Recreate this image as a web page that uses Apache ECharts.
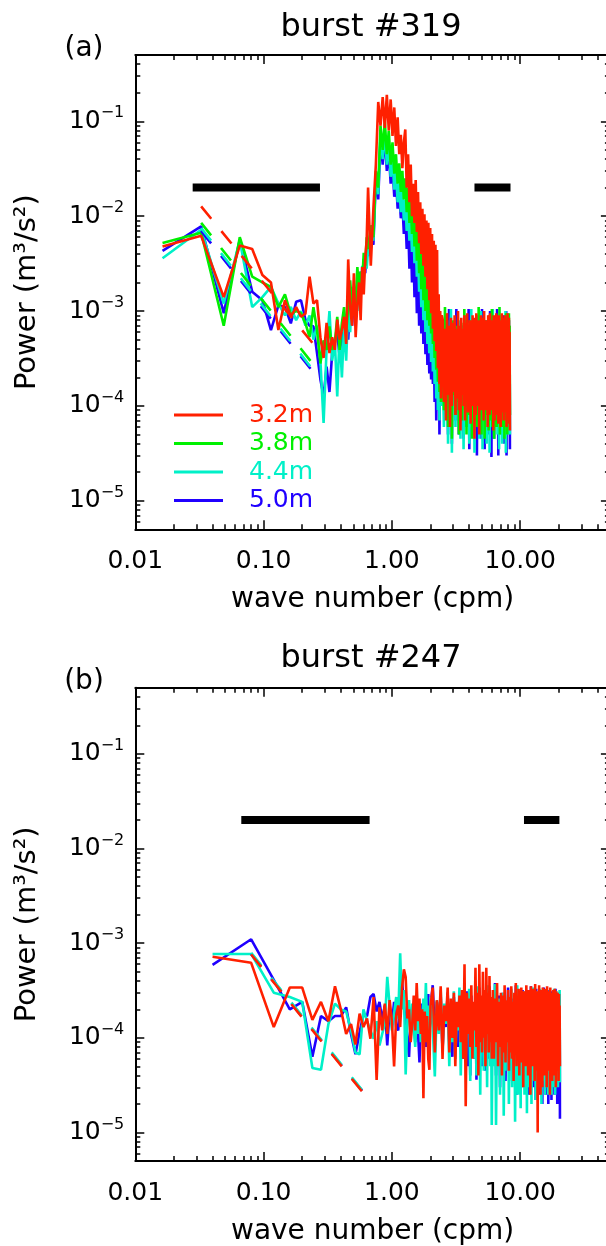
<!DOCTYPE html>
<html>
<head>
<meta charset="utf-8">
<script src="https://cdn.jsdelivr.net/npm/echarts@6.0.0/dist/echarts.min.js"></script>
<style>html,body{margin:0;padding:0;background:#fff}#c{width:606px;height:1246px}</style>
</head>
<body>
<div id="c"></div>
<script>
// ---------------- data ----------------
const FONT = 'DejaVu Sans';
const RED = '#ff2000', GREEN = '#00f000', CYAN = '#00f0c8', BLUE = '#2000ff';

// axes
const xMin = 0.01, xMax = 50, yMin = 5e-6, yMax = 0.5;
const xMajor = [0.01, 0.1, 1, 10];
const xLabels = ['0.01', '0.10', '1.00', '10.00'];
const xMinor = [0.02,0.03,0.04,0.05,0.06,0.07,0.08,0.09,0.2,0.3,0.4,0.5,0.6,0.7,0.8,0.9,2,3,4,5,6,7,8,9,20,30,40];
const yMajor = [1e-5, 1e-4, 1e-3, 1e-2, 1e-1];
const yExp = ['\u22125', '\u22124', '\u22123', '\u22122', '\u22121'];
const yMinor = [6e-6,7e-6,8e-6,9e-6, 2e-5,3e-5,4e-5,5e-5,6e-5,7e-5,8e-5,9e-5,
  2e-4,3e-4,4e-4,5e-4,6e-4,7e-4,8e-4,9e-4, 2e-3,3e-3,4e-3,5e-3,6e-3,7e-3,8e-3,9e-3,
  2e-2,3e-2,4e-2,5e-2,6e-2,7e-2,8e-2,9e-2, 0.2,0.3,0.4];

const titles = ['burst #319', 'burst #247'];
const panelTags = ['(a)', '(b)'];
const depthsA = ['3.2m', '3.8m', '4.4m', '5.0m'];

// wave-number bins (cpm): spacing of each burst's spectrum; bins kept per range [from, to, step]
const dkA = 0.0163, dkB = 0.04;
const binsA = [[1, 40, 1], [42, 150, 2], [153, 510, 3]];
const binsB = [[1, 50, 1], [52, 150, 2], [153, 510, 3]];

// ---- burst #319 power (m^3/s^2) ----
const p32A = [
 4.8e-3,6.2e-3,1.4e-3,4.9e-3,4.5e-3,2.4e-3,2.0e-3,6.3e-4,1.3e-3,8.7e-4,
 1.1e-3,8.7e-4,9.4e-4,2.3e-3,1.2e-3,1.3e-3,5.3e-4,3.2e-4,7.5e-4,3.6e-4,
 5.3e-4,3.9e-4,8.1e-4,5.0e-4,6.3e-4,8.7e-4,4.5e-4,3.5e-3,1.1e-3,7.0e-4,
 2.5e-3,5.3e-4,1.2e-3,2.0e-3,8.0e-4,2.9e-3,1.5e-3,3.5e-3,5.6e-3,2.0e-2,
 3e-3,1.2e-2,3.5e-2,0.16,0.09,0.18,0.085,0.19,0.08,0.17,
 0.07,0.14,0.055,0.11,0.045,0.072,0.032,0.06,0.082,0.02,
 0.045,0.014,0.035,0.01,0.022,8.5e-3,0.024,6.8e-3,0.018,5.2e-3,
 0.014,4e-3,0.012,3e-3,0.0105,2.3e-3,9e-3,1.7e-3,8.5e-3,1.3e-3,
 7.5e-3,9.5e-4,6.5e-3,6.5e-4,5.5e-3,4.8e-4,5e-3,3.8e-4,4.4e-3,2.5e-4,
 1.5e-3,1.7e-4,1e-3,1.2e-4,9e-4,
 8e-4,1.1e-4,6.5e-4,7e-5,9.5e-4,1.3e-4,7e-4,6e-5,8.5e-4,1e-4,7.5e-4,1.4e-4,9e-4,8e-5,6.5e-4,1.2e-4,1e-3,9e-5,7e-4,5.5e-5,
 8.5e-4,1.3e-4,6.5e-4,1e-4,9e-4,7e-5,7.5e-4,1.2e-4,9.5e-4,8.5e-5,7e-4,1.5e-4,8e-4,6.5e-5,6.5e-4,1.1e-4,9e-4,1e-4,7e-4,4.5e-5,
 8.5e-4,8e-5,9.5e-4,1.3e-4,6.5e-4,1e-4,8e-4,5e-5,7e-4,1.2e-4,9e-4,9e-5,7.5e-4,1.4e-4,8.5e-4,7e-5,1e-3,1.1e-4,6.5e-4,9e-5,
 8e-4,1.3e-4,7e-4,6e-5,9e-4,1e-4,7.5e-4,8e-5,9.5e-4,1.2e-4,6.5e-4,9e-5,8e-4,1.4e-4,7e-4,5.5e-5,9e-4,1e-4,8.5e-4,7e-5,
 7e-4,1.1e-4,9.5e-4,8e-5,6.5e-4,1.3e-4,8.5e-4,6.5e-5,9e-4,1e-4,7e-4,1.2e-4,8e-4,6e-5,7.5e-4,1.1e-4,9.5e-4,8.5e-5,6.5e-4,1e-4,
 8.5e-4,7e-5,7e-4,1.2e-4,9e-4,8.5e-5,6.5e-4,1.1e-4,8e-4,6e-5,7.5e-4,1e-4,9.5e-4,7.5e-5,7e-4,1.1e-4,8.5e-4,6.5e-5,6e-4,5.5e-5
];
const p38A = [
 5.2e-3,6.7e-3,7e-4,6.0e-3,2.3e-3,2.0e-3,1.8e-3,1.1e-3,1.5e-3,9.2e-4,
 1.0e-3,9.5e-4,7.4e-4,5.3e-4,1.1e-3,6.3e-4,2.8e-4,4.9e-4,3.9e-4,6.9e-4,
 3.9e-4,4.6e-4,8.7e-4,3.9e-4,7.5e-4,1.1e-3,6e-4,1.1e-3,2.1e-3,1.1e-3,
 1.8e-3,1.2e-3,2.9e-3,1.6e-3,2.6e-3,2.0e-3,4.1e-3,3e-3,6e-3,4.5e-3,
 0.008,0.006,0.03,0.02,0.09,0.05,0.1,0.045,0.08,0.035,
 0.06,0.028,0.045,0.022,0.036,0.018,0.03,0.015,0.025,0.011,
 0.02,0.0085,0.016,0.0065,0.012,0.0048,0.0095,0.0034,0.0075,0.0025,
 0.006,0.0017,0.0048,0.0013,0.0036,0.001,0.0027,8e-4,0.0021,7e-4,
 0.0016,5.8e-4,0.0012,4.5e-4,9e-4,3.2e-4,8e-4,2.4e-4,7e-4,1.8e-4,
 8e-4,1.4e-4,9e-4,1.1e-4,7e-4,
 6e-4,9e-5,1.1e-3,1.2e-4,5e-4,6e-5,7e-4,1e-4,6e-4,4.5e-5,8e-4,1.3e-4,5.5e-4,8e-5,7e-4,1.1e-4,6.5e-4,5e-5,5e-4,1e-4,
 7.5e-4,7e-5,6e-4,1.2e-4,1.05e-3,9e-5,5.5e-4,5e-5,7e-4,1.1e-4,6e-4,8e-5,8e-4,1.3e-4,5e-4,4.5e-5,6.5e-4,1e-4,7e-4,7e-5,
 5.5e-4,1.2e-4,8e-4,6e-5,6e-4,1e-4,1.1e-3,8e-5,5e-4,1.3e-4,7e-4,5e-5,6e-4,1.1e-4,7.5e-4,9e-5,5.5e-4,4.5e-5,8e-4,1.2e-4,
 6e-4,8e-5,7e-4,1.1e-4,5e-4,5.5e-5,9e-4,1e-4,6.5e-4,7e-5,5.5e-4,1.2e-4,1.05e-3,6e-5,6e-4,1e-4,7e-4,4.5e-5,5e-4,9e-5,
 7.5e-4,1.1e-4,6e-4,6e-5,8e-4,1e-4,5e-4,8e-5,7e-4,1.2e-4,1.1e-3,5e-5,6e-4,1e-4,5.5e-4,7e-5,7.5e-4,1.1e-4,6e-4,6e-5,
 8e-4,9e-5,5.5e-4,4.5e-5,7e-4,1.1e-4,6e-4,7e-5,9.5e-4,1e-4,5e-4,5e-5,7e-4,1.2e-4,6e-4,8e-5,9.5e-4,1e-4,7e-4,8e-5
];
const p44A = [
 3.6e-3,7.2e-3,1.2e-3,5.6e-3,1.1e-3,1.4e-3,1.8e-3,1.2e-3,9e-4,1.1e-3,
 8e-4,1.0e-3,7e-4,9e-4,5e-4,7e-4,3e-4,6.6e-5,4e-4,1.0e-3,
 3e-4,5e-4,1.26e-4,6e-4,2.0e-4,7e-4,3e-4,1.2e-3,6e-4,1.5e-3,
 9e-4,1.8e-3,1.0e-3,2.4e-3,1.5e-3,3e-3,2.2e-3,3.8e-3,2.8e-3,4.5e-3,
 0.007,0.0055,0.028,0.017,0.075,0.04,0.08,0.035,0.06,0.026,
 0.042,0.019,0.03,0.014,0.022,0.011,0.018,0.009,0.015,0.007,
 0.012,0.0055,0.0095,0.0042,0.0075,0.0032,0.006,0.0023,0.0045,0.0016,
 0.0033,0.0011,0.0024,8e-4,0.0018,6e-4,0.0013,4.5e-4,0.001,3.6e-4,
 8e-4,2.9e-4,7e-4,2.3e-4,6e-4,1.7e-4,6e-4,1.2e-4,7e-4,9e-5,
 8e-4,7e-5,6e-4,1e-4,7e-4,
 7e-4,6e-5,5e-4,1.1e-4,8e-4,4e-5,6e-4,1.2e-4,1.05e-3,3.2e-5,5.5e-4,9e-5,7e-4,6e-5,6e-4,1.1e-4,5e-4,7e-5,8e-4,4.5e-5,
 6e-4,1e-4,7e-4,3.5e-5,5.5e-4,1.2e-4,9e-4,6e-5,6e-4,9e-5,7.5e-4,4e-5,5e-4,1.1e-4,1.05e-3,6e-5,6e-4,8e-5,7e-4,3.2e-5,
 5.5e-4,1.2e-4,8e-4,6e-5,6e-4,9e-5,7e-4,4.5e-5,5e-4,1.1e-4,1e-3,7e-5,6e-4,3.5e-5,7.5e-4,1e-4,5.5e-4,6e-5,8e-4,1.1e-4,
 6e-4,4e-5,7e-4,9e-5,5e-4,1.2e-4,8.5e-4,3.2e-5,6e-4,1e-4,7e-4,6e-5,5.5e-4,1.1e-4,1.05e-3,6e-5,6e-4,4.5e-5,7e-4,1e-4,
 5.5e-4,7e-5,8e-4,1.2e-4,6e-4,5e-5,7e-4,9e-5,5e-4,3.5e-5,9e-4,1.1e-4,6e-4,6e-5,7e-4,1e-4,5.5e-4,4e-5,8e-4,8e-5,
 6e-4,1.1e-4,7e-4,5e-5,5.5e-4,9e-5,1e-3,3.2e-5,6e-4,1.2e-4,7e-4,6e-5,5.5e-4,9e-5,8e-4,5e-5,6e-4,1e-4,7e-4,5e-5
];
const p50A = [
 4.3e-3,7.8e-3,9.5e-4,5.6e-3,1.6e-3,1.3e-3,6.3e-4,1.15e-3,1.1e-3,7.4e-4,
 1.25e-3,1.3e-3,8.1e-4,7e-4,6.9e-4,3.6e-4,1.9e-4,1.26e-4,2.6e-4,1.4e-4,
 3.6e-4,5e-4,5.8e-4,3.3e-4,6e-4,4e-4,9e-4,5e-4,1.2e-3,7e-4,
 1.5e-3,9e-4,2e-3,1.2e-3,2.6e-3,1.8e-3,3.5e-3,2.5e-3,5e-3,3.8e-3,
 0.006,0.005,0.025,0.015,0.065,0.035,0.07,0.03,0.05,0.022,
 0.035,0.016,0.025,0.012,0.018,0.0095,0.014,0.0065,0.011,0.0045,
 0.009,0.0028,0.007,0.002,0.0055,0.0014,0.0042,9.5e-4,0.0032,7e-4,
 0.0023,5.8e-4,0.0016,4.5e-4,0.0011,3.5e-4,8e-4,2.7e-4,6e-4,2.2e-4,
 5e-4,1.9e-4,5e-4,1.7e-4,6e-4,1.1e-4,6e-4,7e-5,7e-4,9e-5,
 8e-4,5e-5,6e-4,1.1e-4,7e-4,
 6e-4,1e-4,8e-4,1.6e-4,5e-4,5e-5,1.05e-3,1.2e-4,6e-4,4e-5,7e-4,1e-4,5e-4,7e-5,1.05e-3,1.3e-4,6e-4,5e-5,7e-4,1.1e-4,
 5.5e-4,8e-5,7e-4,4.5e-5,6e-4,1.2e-4,8e-4,6e-5,5e-4,1e-4,1.05e-3,3.5e-5,6e-4,1.1e-4,7e-4,7e-5,5.5e-4,1e-4,8e-4,5e-5,
 6e-4,1.2e-4,7e-4,3e-5,5e-4,9e-5,9e-4,6e-5,6e-4,1.1e-4,7e-4,4.5e-5,1.05e-3,1e-4,5.5e-4,7e-5,6e-4,3.5e-5,7.5e-4,1e-4,
 5e-4,8e-5,8e-4,1.2e-4,6e-4,5e-5,7e-4,1e-4,1e-3,6e-5,5.5e-4,2.9e-5,7e-4,1.1e-4,6e-4,8e-5,8e-4,4.5e-5,5.5e-4,1e-4,
 7e-4,6e-5,6e-4,1.2e-4,1.05e-3,7e-5,5e-4,3e-5,7e-4,1e-4,6e-4,6e-5,8e-4,1.1e-4,5.5e-4,5e-5,7e-4,9e-5,6e-4,6e-5,
 9e-4,1e-4,6e-4,4e-5,7e-4,9e-5,5.5e-4,7e-5,1e-3,3e-5,6e-4,1e-4,7e-4,6e-5,5.5e-4,1.1e-4,8e-4,8e-5,6e-4,3.5e-5
];

// ---- burst #247 power (m^3/s^2) ----
const p32B = [
 7.2e-4,6.2e-4,1.3e-4,3.4e-4,3.4e-4,1.55e-4,2.4e-4,1.5e-4,3.5e-4,2e-4,
 1.1e-4,1.4e-4,8.5e-5,1.8e-4,1.3e-4,1.6e-4,9.8e-5,2.7e-4,3.6e-5,2.1e-4,
 1.2e-4,2.3e-4,1.1e-4,2.5e-4,1.5e-4,5e-5,1.7e-4,2.2e-4,1.3e-4,3.4e-4,
 5.3e-4,4.4e-4,1.6e-4,2e-4,9e-5,1.4e-4,2.8e-4,1.2e-4,3.8e-4,1.5e-4,
 2.6e-4,1.1e-4,2e-4,2.3e-5,1.9e-4,9e-5,1.7e-4,6e-5,4.6e-5,2.2e-4,
 3.4e-4,7e-5,2.5e-4,1.2e-4,3.5e-4,6e-5,2.2e-4,1.5e-4,3.4e-4,7e-5,
 2.6e-4,1e-4,3e-4,5e-5,2.4e-4,1.3e-4,2.8e-4,9e-5,3.2e-4,6e-5,
 6e-4,1.9e-5,3e-4,1.1e-4,2.6e-4,8e-5,3.6e-4,6e-5,2.4e-4,1.2e-4,
 5.5e-4,8e-5,3e-4,4e-5,6e-4,9e-5,2.8e-4,7e-5,5e-4,1e-4,
 3.2e-4,5e-5,5.5e-4,1.1e-4,3e-4,7e-5,4.5e-4,9e-5,2.7e-4,6e-5,
 3.2e-4,6e-5,2.6e-4,9e-5,3.8e-4,5e-5,2.4e-4,8e-5,3e-4,4e-5,2.8e-4,7e-5,3.6e-4,5.5e-5,2.5e-4,9e-5,3.2e-4,4.5e-5,2.7e-4,7e-5,
 3.5e-4,6e-5,2.4e-4,3.5e-5,3e-4,8e-5,3.8e-4,5e-5,2.6e-4,7e-5,3.3e-4,4e-5,2.5e-4,9e-5,3.4e-4,5.5e-5,2.8e-4,3e-5,3.1e-4,7e-5,
 2.6e-4,5e-5,3.6e-4,8e-5,2.7e-4,4e-5,3.2e-4,6e-5,2.4e-4,2.5e-5,3.5e-4,7e-5,2.9e-4,5e-5,3.3e-4,8e-5,2.5e-4,3.5e-5,3.7e-4,6e-5,
 2.8e-4,4.5e-5,3.1e-4,1e-5,2.6e-4,7e-5,3.6e-4,5e-5,2.4e-4,2.5e-5,3.2e-4,6e-5,2.7e-4,3e-5,3.4e-4,7e-5,2.5e-4,4e-5,3e-4,6e-5,
 3.3e-4,5e-5,2.6e-4,3e-5,3.5e-4,7e-5,2.8e-4,4.5e-5,3.1e-4,6e-5,2.5e-4,2.5e-5,3.4e-4,7e-5,2.7e-4,5e-5,3e-4,3.5e-5,2.6e-4,6e-5,
 3.2e-4,4e-5,2.4e-4,7e-5,3.3e-4,5e-5,2.7e-4,3e-5,3.1e-4,6e-5,2.5e-4,4.5e-5,3e-4,7e-5,2.6e-4,3.5e-5,2.9e-4,6e-5,2.2e-4,5e-5
];
const p44B = [
 7.7e-4,7.7e-4,3.0e-4,2.7e-4,2.4e-4,4.8e-5,4.6e-5,1.4e-4,2.3e-4,2.0e-4,
 1.9e-4,1.2e-4,7e-5,6.7e-5,2e-4,1.5e-4,1.2e-4,9.8e-5,1.5e-4,8.3e-5,
 1.1e-4,1.4e-4,4.4e-4,2.2e-4,1.2e-4,1.8e-4,2.7e-4,1.6e-4,7.8e-4,2e-4,
 3.2e-4,4.1e-5,1.5e-4,2.5e-4,1e-4,2.3e-4,1.3e-4,8e-5,2e-4,1.1e-4,
 1.7e-4,9e-5,1.4e-4,2.6e-4,1.5e-4,3.8e-4,1.2e-4,2.2e-4,1e-4,2.7e-4,
 1.3e-4,3.9e-5,2.5e-4,1.1e-4,3.2e-4,7e-5,2.3e-4,1.4e-4,2.9e-4,5e-5,
 2.1e-4,9e-5,3.1e-4,6e-5,1.8e-4,1.2e-4,3.4e-4,4e-5,2.2e-4,8e-5,
 2.7e-4,5.5e-5,1.9e-4,1.3e-4,3.3e-4,3.5e-5,2.3e-4,9e-5,1.8e-4,6e-5,
 2.8e-4,4e-5,3.5e-4,1e-4,2e-4,2.5e-5,2.6e-4,7e-5,1.9e-4,4.5e-5,
 3.2e-4,1.1e-4,2.1e-4,3e-5,3.6e-4,8e-5,2.2e-4,5e-5,2.6e-4,1.2e-5,
 2.2e-4,5e-5,3.7e-4,1.2e-5,1.9e-4,7e-5,2.6e-4,2.5e-5,1.8e-4,6e-5,3e-4,1.5e-5,2.3e-4,4.5e-5,1.7e-4,8e-5,2.8e-4,2e-5,2e-4,5.5e-5,
 3.3e-4,3e-5,1.9e-4,7e-5,2.4e-4,1.3e-5,1.8e-4,5e-5,3.6e-4,2.5e-5,2.1e-4,6.5e-5,1.7e-4,1.8e-5,2.7e-4,4.5e-5,2e-4,7e-5,3.1e-4,2.5e-5,
 1.9e-4,5.5e-5,2.5e-4,1.6e-5,3.2e-4,6e-5,1.8e-4,3e-5,2.3e-4,7e-5,2.9e-4,2e-5,1.7e-4,5e-5,3.4e-4,3.5e-5,2.1e-4,6e-5,2.6e-4,2.2e-5,
 1.8e-4,4.5e-5,3.1e-4,2.5e-5,2.2e-4,6.5e-5,1.9e-4,3e-5,3.3e-4,5e-5,2.4e-4,2e-5,1.7e-4,6e-5,2.8e-4,3.5e-5,2e-4,4.5e-5,3e-4,2.5e-5,
 2.3e-4,6e-5,1.8e-4,3e-5,3.2e-4,5e-5,2.1e-4,2.5e-5,2.6e-4,6.5e-5,1.9e-4,3.5e-5,3e-4,5e-5,2.2e-4,2.5e-5,1.8e-4,6e-5,2.9e-4,4e-5,
 2e-4,3e-5,3.3e-4,5.5e-5,1.9e-4,2.5e-5,2.5e-4,6e-5,3.1e-4,3.5e-5,1.8e-4,5e-5,2.4e-4,3e-5,3e-4,6e-5,2.1e-4,4e-5,3.2e-4,3.4e-5
];
const p50B = [
 5.9e-4,1.1e-3,4.1e-4,2.0e-4,2.4e-4,6.3e-5,1.7e-4,1.5e-4,1.7e-4,1.7e-4,
 2.1e-4,1.1e-4,6.7e-5,1.15e-4,1.75e-4,1.7e-4,2.7e-4,2.9e-4,1.9e-4,2.4e-4,
 1.55e-4,2.2e-4,8.3e-5,2e-4,1.4e-4,2.4e-4,1.3e-4,1.2e-4,2.6e-4,4e-4,
 2.2e-4,1.5e-4,1e-4,6.3e-5,1.6e-4,1.5e-4,2.2e-4,9e-5,1.8e-4,1.1e-4,
 5.5e-5,1.6e-4,2.3e-4,1.2e-4,2e-4,8e-5,1.7e-4,2.9e-4,1.4e-4,2.1e-4,
 3.6e-4,1.1e-4,2.4e-4,1.5e-4,2.8e-4,7.4e-5,2.2e-4,1.3e-4,3e-4,9e-5,
 2e-4,6.3e-5,2.7e-4,1.2e-4,1.9e-4,8e-5,2.3e-4,1.4e-4,2.9e-4,6e-5,
 2.1e-4,1e-4,3.1e-4,5e-5,1.9e-4,4e-5,2.8e-4,9e-5,2.2e-4,6e-5,
 2.5e-4,3.6e-5,1.9e-4,1.1e-4,3.4e-4,7e-5,2.1e-4,5e-5,2.6e-4,8e-5,
 1.9e-4,4.5e-5,3.2e-4,1e-4,2.2e-4,6e-5,3.5e-4,8e-5,2e-4,5e-5,
 2.5e-4,6e-5,3.8e-4,4e-5,2e-4,8e-5,2.8e-4,3e-5,1.8e-4,7e-5,3e-4,5e-5,2.2e-4,3.5e-5,1.9e-4,8e-5,3.4e-4,4.5e-5,2.4e-4,6e-5,
 1.8e-4,3.5e-5,2.6e-4,7e-5,2e-4,5e-5,3.6e-4,2.5e-5,2.3e-4,6e-5,1.7e-4,4e-5,2.8e-4,8e-5,2.1e-4,3e-5,3.2e-4,6e-5,1.9e-4,4.5e-5,
 2.4e-4,7e-5,3e-4,3e-5,1.8e-4,5e-5,2.6e-4,2.5e-5,2e-4,6e-5,3.5e-4,4e-5,2.2e-4,7e-5,1.7e-4,3e-5,2.7e-4,5.5e-5,2.1e-4,2.2e-5,
 3.3e-4,6e-5,1.9e-4,3.5e-5,2.5e-4,5e-5,2e-4,2.5e-5,3e-4,7e-5,1.8e-4,4e-5,2.6e-4,2e-5,2.2e-4,6e-5,3.4e-4,3.5e-5,2e-4,5e-5,
 2.4e-4,2.5e-5,1.8e-4,6e-5,2.9e-4,4e-5,2.1e-4,2e-5,3.2e-4,5.5e-5,1.9e-4,3e-5,2.5e-4,6e-5,2e-4,2.2e-5,3.1e-4,5e-5,2.3e-4,3e-5,
 1.8e-4,5e-5,2.7e-4,2.5e-5,2.1e-4,6e-5,3.3e-4,3e-5,1.9e-4,4.5e-5,2.6e-4,2e-5,2.2e-4,5e-5,3e-4,3e-5,2e-4,2e-5,2.9e-4,1.4e-5
];

// power-law fits (dashed): [[k_start, P_start], [k_end, P_end]]
const fit32A = [[0.0326, 1.27e-2], [0.27, 3.8e-4]];
const fit38A = [[0.0326, 8.5e-3], [0.27, 2.3e-4]];
const fit44A = [[0.0326, 7.5e-3], [0.27, 2.0e-4]];
const fit50A = [[0.0326, 7.0e-3], [0.27, 1.9e-4]];
const fit32B = [[0.08, 7.6e-4], [0.6, 2.6e-5]];
const fit44B = [[0.08, 7.9e-4], [0.6, 2.7e-5]];
const fit50B = [[0.08, 7.7e-4], [0.6, 2.65e-5]];

// fitting ranges (black bars): [k_from, k_to] drawn at power level barLevel
const barsA = [[0.028, 0.275], [4.4, 8.4]];
const barsB = [[0.067, 0.67], [10.7, 20.2]];
const barLevel = 0.02;

// ---------------- build ----------------
function expand(ranges, dk) {
  const out = [];
  ranges.forEach(([a, b, s]) => { for (let i = a; i <= b; i += s) out.push(+(i * dk).toFixed(5)); });
  return out;
}
const kA = expand(binsA, dkA), kB = expand(binsB, dkB);
[[kA, p32A, 'p32A'], [kA, p38A, 'p38A'], [kA, p44A, 'p44A'], [kA, p50A, 'p50A'],
 [kB, p32B, 'p32B'], [kB, p44B, 'p44B'], [kB, p50B, 'p50B']].forEach(([k, p, n]) => {
  if (k.length !== p.length) console.error(n + ' length ' + p.length + ' vs ' + k.length);
});
function pairs(k, p) { const n = Math.min(k.length, p.length); const d = []; for (let i = 0; i < n; i++) d.push([k[i], p[i]]); return d; }
function nearest(arr, v) {
  let bi = 0, bd = Infinity;
  arr.forEach((t, i) => { const d = Math.abs(Math.log10(v) - Math.log10(t)); if (d < bd) { bd = d; bi = i; } });
  return bi;
}
const blk = w => ({ color: '#000', width: w });

function xAxesFor(gi) {
  const base = { type: 'log', logBase: 10, min: xMin, max: xMax, gridIndex: gi, splitLine: { show: false },
    axisLine: { show: false }, axisLabel: { show: false }, axisTick: { show: false }, axisPointer: { show: false }, silent: true };
  return [
    Object.assign({}, base, { position: 'bottom', axisLine: { show: true, lineStyle: blk(2) },
      axisTick: { show: true, inside: true, length: 9, customValues: xMajor, lineStyle: blk(1.5) },
      axisLabel: { show: true, customValues: xMajor, margin: 20, color: '#000', fontFamily: FONT, fontSize: 25, lineHeight: 25,
        formatter: v => xLabels[nearest(xMajor, v)] },
      name: 'wave number (cpm)', nameLocation: 'middle', nameGap: 56.5,
      nameTextStyle: { color: '#000', fontFamily: FONT, fontSize: 28 } }),
    Object.assign({}, base, { position: 'bottom', axisTick: { show: true, inside: true, length: 5, customValues: xMinor, lineStyle: blk(1.5) } }),
    Object.assign({}, base, { position: 'top', axisLine: { show: true, lineStyle: blk(2) },
      axisTick: { show: true, inside: true, length: 9, customValues: xMajor, lineStyle: blk(1.5) } }),
    Object.assign({}, base, { position: 'top', axisTick: { show: true, inside: true, length: 5, customValues: xMinor, lineStyle: blk(1.5) } })
  ];
}
function yAxesFor(gi) {
  const base = { type: 'log', logBase: 10, min: yMin, max: yMax, gridIndex: gi, splitLine: { show: false },
    axisLine: { show: false }, axisLabel: { show: false }, axisTick: { show: false }, axisPointer: { show: false }, silent: true };
  return [
    Object.assign({}, base, { position: 'left', axisLine: { show: true, lineStyle: blk(2) },
      axisTick: { show: true, inside: true, length: 9, customValues: yMajor, lineStyle: blk(1.5) },
      axisLabel: { show: true, customValues: yMajor, margin: 11,
        formatter: v => '{b|10}{s|' + yExp[nearest(yMajor, v)] + '}',
        rich: { b: { fontFamily: FONT, fontSize: 25, lineHeight: 32, color: '#000' },
                s: { fontFamily: FONT, fontSize: 16, lineHeight: 16, verticalAlign: 'top', color: '#000' } } },
      name: 'Power (m\u00b3/s\u00b2)', nameLocation: 'middle', nameGap: 93.5,
      nameTextStyle: { color: '#000', fontFamily: FONT, fontSize: 29 } }),
    Object.assign({}, base, { position: 'left', axisTick: { show: true, inside: true, length: 5, customValues: yMinor, lineStyle: blk(1.5) } }),
    Object.assign({}, base, { position: 'right', axisLine: { show: true, lineStyle: blk(2) },
      axisTick: { show: true, inside: true, length: 9, customValues: yMajor, lineStyle: blk(1.5) } }),
    Object.assign({}, base, { position: 'right', axisTick: { show: true, inside: true, length: 5, customValues: yMinor, lineStyle: blk(1.5) } })
  ];
}

function trace(name, color, data, ai) {
  return { type: 'line', name, xAxisIndex: ai, yAxisIndex: ai, data, symbol: 'none', showSymbol: false,
    color, lineStyle: { color, width: 2.6 }, itemStyle: { color }, animation: false, silent: true, clip: true };
}
function dashed(name, color, data, ai) {
  return { type: 'line', name, xAxisIndex: ai, yAxisIndex: ai, data, symbol: 'none', showSymbol: false,
    color, lineStyle: { color, width: 2.6, type: [16, 16] }, animation: false, silent: true };
}
function bar(name, seg, ai) {
  return { type: 'line', name, xAxisIndex: ai, yAxisIndex: ai, data: [[seg[0], barLevel], [seg[1], barLevel]],
    symbol: 'none', showSymbol: false, color: '#000', lineStyle: { color: '#000', width: 8, cap: 'butt' }, animation: false, silent: true };
}

const A = 0, B = 4; // axis index of each panel's main axes
const series = [
  trace('5.0m', BLUE, pairs(kA, p50A), A),
  trace('4.4m', CYAN, pairs(kA, p44A), A),
  trace('3.8m', GREEN, pairs(kA, p38A), A),
  trace('3.2m', RED, pairs(kA, p32A), A),
  dashed('fit 5.0m a', BLUE, fit50A, A),
  dashed('fit 4.4m a', CYAN, fit44A, A),
  dashed('fit 3.8m a', GREEN, fit38A, A),
  dashed('fit 3.2m a', RED, fit32A, A),
  bar('range a1', barsA[0], A), bar('range a2', barsA[1], A),
  trace('5.0m', BLUE, pairs(kB, p50B), B),
  trace('4.4m', CYAN, pairs(kB, p44B), B),
  trace('3.2m', RED, pairs(kB, p32B), B),
  dashed('fit 5.0m b', BLUE, fit50B, B),
  dashed('fit 4.4m b', CYAN, fit44B, B),
  dashed('fit 3.2m b', RED, fit32B, B),
  bar('range b1', barsB[0], B), bar('range b2', barsB[1], B)
];

const legendColors = [RED, GREEN, CYAN, BLUE];
const titleStyle = (s) => ({ fontFamily: FONT, fontSize: s, fontWeight: 'normal', color: '#000' });

const option = {
  backgroundColor: '#fff',
  animation: false,
  textStyle: { fontFamily: FONT },
  title: [
    { text: titles[0], left: 371, top: 28, padding: 0, textAlign: 'center', textVerticalAlign: 'middle', textStyle: titleStyle(32) },
    { text: panelTags[0], left: 84, top: 48.5, padding: 0, textAlign: 'center', textVerticalAlign: 'middle', textStyle: titleStyle(28) },
    { text: titles[1], left: 371, top: 658.5, padding: 0, textAlign: 'center', textVerticalAlign: 'middle', textStyle: titleStyle(32) },
    { text: panelTags[1], left: 84, top: 681.7, padding: 0, textAlign: 'center', textVerticalAlign: 'middle', textStyle: titleStyle(28) }
  ],
  legend: {
    left: 174, top: 400.8, orient: 'vertical', icon: 'rect', itemWidth: 49, itemHeight: 3, itemGap: 0,
    selectedMode: false, padding: 0,
    textStyle: { fontFamily: FONT, fontSize: 25, lineHeight: 28.5, padding: [0, 0, 0, 21] },
    data: depthsA.map((n, i) => ({ name: n, textStyle: { color: legendColors[i] } }))
  },
  grid: [
    { left: 135.3, top: 55, width: 474.6, height: 474.3, containLabel: false, outerBoundsMode: 'none' },
    { left: 135.3, top: 687.7, width: 474.6, height: 473.3, containLabel: false, outerBoundsMode: 'none' }
  ],
  xAxis: xAxesFor(0).concat(xAxesFor(1)),
  yAxis: yAxesFor(0).concat(yAxesFor(1)),
  series
};

const chart = echarts.init(document.getElementById('c'), null, { renderer: 'canvas', width: 606, height: 1246 });
chart.setOption(option);
</script>
</body>
</html>
